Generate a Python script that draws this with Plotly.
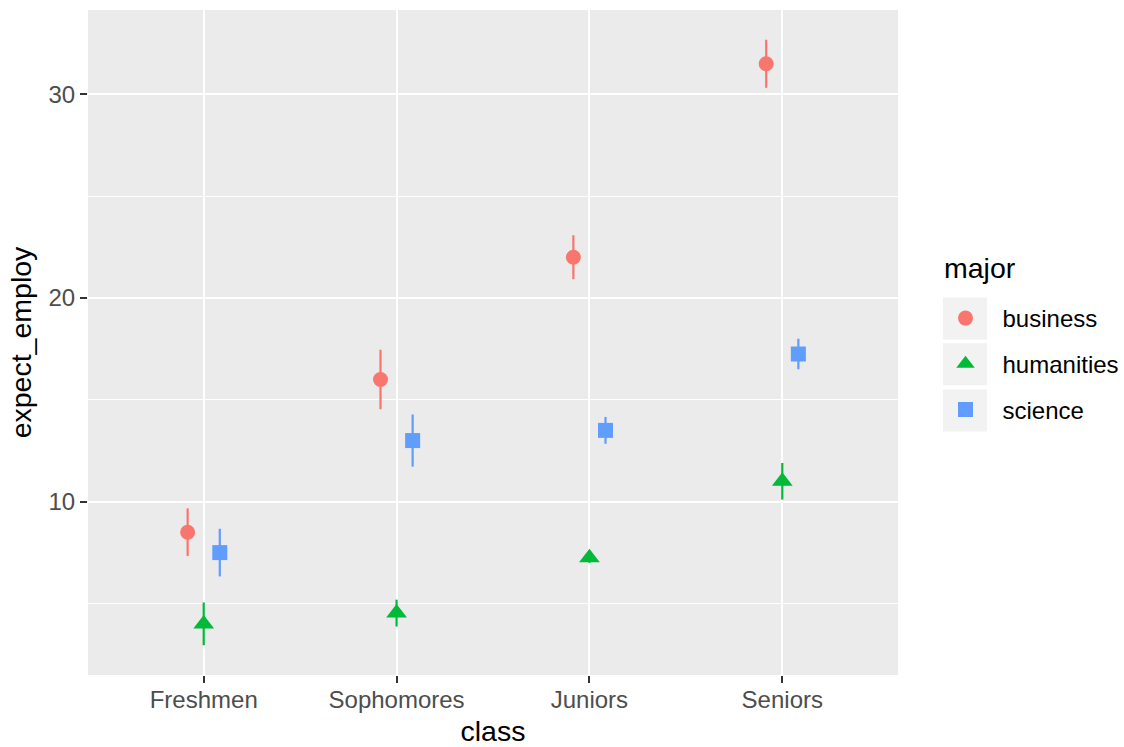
import plotly.graph_objects as go

# ---- data ----
classes = ["Freshmen", "Sophomores", "Juniors", "Seniors"]
majors = ["business", "humanities", "science"]
business_mean = [8.5, 16.0, 22.0, 31.5]
business_err = [1.17, 1.46, 1.08, 1.18]
humanities_mean = [4.0, 4.53, 7.25, 11.0]
humanities_err = [1.05, 0.66, 0.25, 0.9]
science_mean = [7.5, 13.0, 13.5, 17.25]
science_err = [1.17, 1.28, 0.66, 0.75]
y_ticks = [10, 20, 30]

means = [business_mean, humanities_mean, science_mean]
errs = [business_err, humanities_err, science_err]
colors = ["#F8766D", "#00BA38", "#619CFF"]
symbols = ["circle", "triangle-up", "square"]
sizes = [15, 18, 15]

# page geometry (px); body margin is removed by the post script
OFF = 0
PAGE_W, PAGE_H = 1124, 747
PL, PR, PT, PB = 88, 898, 10, 675          # panel edges on the page
W, H = PAGE_W - OFF, PAGE_H - OFF
L, T = PL - OFF, PT - OFF
R, B = PAGE_W - PR, PAGE_H - PB
pw, ph = PR - PL, PB - PT
dodge = 0.25

def px(x):
    return (x - PL) / pw
def py(y):
    return (PB - y) / ph

fig = go.Figure()
n = len(majors)
for k, m in enumerate(majors):
    off = (k - (n - 1) / 2) * dodge / n
    fig.add_trace(go.Scatter(
        x=[i + off for i in range(len(classes))],
        y=means[k],
        mode="markers",
        name=m,
        legendgroup=m,
        marker=dict(color=colors[k], symbol=symbols[k], size=sizes[k], line=dict(width=0)),
        error_y=dict(type="data", array=errs[k], visible=True, color=colors[k],
                     thickness=2.2, width=0),
    ))

# legend key backgrounds
row_centers = [318.5, 364.2, 410.5]
shapes = []
for c in row_centers:
    shapes.append(dict(type="rect", xref="paper", yref="paper",
                       x0=px(943), x1=px(987), y0=py(c + 21), y1=py(c - 21),
                       fillcolor="#F2F2F2", line=dict(width=0), layer="below"))

font = "Liberation Sans, Arial, sans-serif"
fig.update_layout(
    width=W, height=H,
    margin=dict(l=L, r=R, t=T, b=B, pad=0, autoexpand=False),
    paper_bgcolor="white",
    plot_bgcolor="#EBEBEB",
    font=dict(family=font, color="black"),
    shapes=shapes,
    annotations=[dict(text="major", xref="paper", yref="paper", x=px(942), y=py(268),
                      xanchor="left", yanchor="middle", showarrow=False,
                      font=dict(size=28.5, color="black"))],
    showlegend=True,
    legend=dict(
        x=px(928.5), xanchor="left", y=py(296), yanchor="top",
        font=dict(size=24, color="black"),
        bgcolor="rgba(0,0,0,0)",
        borderwidth=0,
        tracegroupgap=11.5,
        itemsizing="trace",
        itemwidth=64,
    ),
    xaxis=dict(
        range=[-0.6, 3.6], tickmode="array",
        tickvals=list(range(len(classes))), ticktext=classes,
        showgrid=True, gridcolor="white", gridwidth=2.2,
        zeroline=False, showline=False,
        ticks="outside", ticklen=7, tickwidth=2, tickcolor="#333333",
        tickfont=dict(size=24, color="#4D4D4D"),
        ticklabelstandoff=-4,
        title=dict(text="class", font=dict(size=28.5, color="black"), standoff=10),
        automargin=False,
    ),
    yaxis=dict(
        range=[1.49, 34.14], tickmode="array", tickvals=y_ticks,
        showgrid=True, gridcolor="white", gridwidth=2.2,
        minor=dict(tickvals=[5, 15, 25], showgrid=True, gridcolor="white", gridwidth=1.1, ticks=""),
        zeroline=False, showline=False,
        ticks="outside", ticklen=7, tickwidth=2, tickcolor="#333333",
        tickfont=dict(size=24, color="#4D4D4D"),
        title=dict(text="expect_employ", font=dict(size=28.5, color="black"), standoff=8),
        automargin=False,
    ),
)

fig.write_html("out.html",
               config={"displayModeBar": False},
               post_script="document.body.style.margin='0px';document.body.style.overflow='hidden';")
